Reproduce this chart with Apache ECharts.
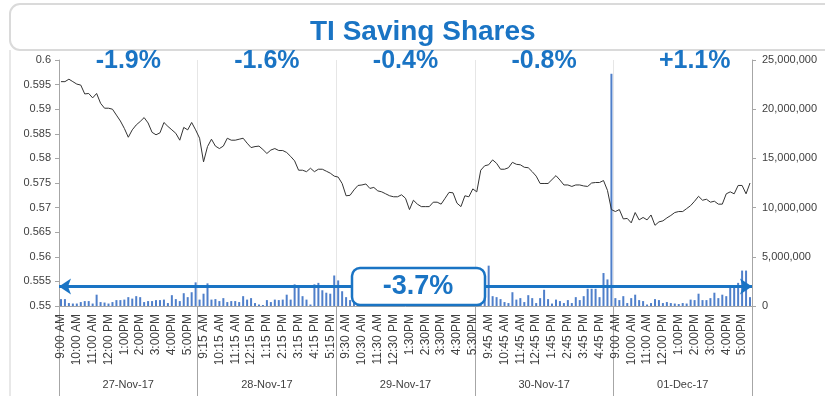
<!DOCTYPE html>
<html>
<head>
<meta charset="utf-8">
<script src="https://cdn.jsdelivr.net/npm/echarts@6/dist/echarts.min.js"></script>
<style>
html, body { margin: 0; padding: 0; background: #fff; }
#main { width: 825px; height: 404px; }
</style>
</head>
<body>
<div id="main"></div>
<script>
// trading days, daily move and the week move
var days = ['27-Nov-17', '28-Nov-17', '29-Nov-17', '30-Nov-17', '01-Dec-17'];
var dayChange = ['-1.9%', '-1.6%', '-0.4%', '-0.8%', '+1.1%'];
var weekChange = '-3.7%';

// 15 minute slots of one session
var slots = ['9:00 AM', '9:15 AM', '9:30 AM', '9:45 AM', '10:00 AM', '10:15 AM', '10:30 AM', '10:45 AM',
    '11:00 AM', '11:15 AM', '11:30 AM', '11:45 AM', '12:00 PM', '12:15 PM', '12:30 PM', '12:45 PM',
    '1:00PM', '1:15 PM', '1:30PM', '1:45 PM', '2:00PM', '2:15 PM', '2:30PM', '2:45 PM',
    '3:00PM', '3:15 PM', '3:30PM', '3:45 PM', '4:00PM', '4:15 PM', '4:30PM', '4:45 PM',
    '5:00PM', '5:15 PM', '5:30PM'];

// price (EUR)
var price27 = [0.5956, 0.5956, 0.5961, 0.5956, 0.5951, 0.5949, 0.5931, 0.5932, 0.5923, 0.5932,
    0.5912, 0.5902, 0.5902, 0.5900, 0.5888, 0.5876, 0.5861, 0.5843, 0.5858, 0.5868,
    0.5875, 0.5883, 0.5872, 0.5853, 0.5848, 0.5852, 0.5873, 0.5865, 0.5858, 0.5851,
    0.5837, 0.5863, 0.5858, 0.5873, 0.5858];
var price28 = [0.5841, 0.5793, 0.5824, 0.5839, 0.5825, 0.5820, 0.5825, 0.5841, 0.5837, 0.5837,
    0.5839, 0.5841, 0.5831, 0.5822, 0.5824, 0.5825, 0.5818, 0.5810, 0.5817, 0.5820,
    0.5816, 0.5816, 0.5812, 0.5804, 0.5795, 0.5776, 0.5776, 0.5773, 0.5780, 0.5773,
    0.5778, 0.5778, 0.5774, 0.5770, 0.5764];
var price29 = [0.5762, 0.5749, 0.5724, 0.5725, 0.5736, 0.5745, 0.5746, 0.5748, 0.5739, 0.5741,
    0.5734, 0.5732, 0.5728, 0.5724, 0.5722, 0.5722, 0.5726, 0.5719, 0.5696, 0.5715,
    0.5707, 0.5702, 0.5702, 0.5702, 0.5711, 0.5711, 0.5707, 0.5719, 0.5731, 0.5730,
    0.5709, 0.5702, 0.5724, 0.5722, 0.5738];
var price30 = [0.5732, 0.5776, 0.5785, 0.5787, 0.5797, 0.5790, 0.5778, 0.5778, 0.5781, 0.5792,
    0.5788, 0.5787, 0.5782, 0.5781, 0.5773, 0.5764, 0.5749, 0.5749, 0.5749, 0.5757,
    0.5765, 0.5756, 0.5746, 0.5746, 0.5743, 0.5746, 0.5746, 0.5744, 0.5743, 0.5750,
    0.5751, 0.5751, 0.5755, 0.5735, 0.5696];
var price01 = [0.5692, 0.5696, 0.5677, 0.5678, 0.5669, 0.5690, 0.5675, 0.5680, 0.5675, 0.5685,
    0.5664, 0.5671, 0.5673, 0.5679, 0.5684, 0.5690, 0.5692, 0.5692, 0.5698, 0.5704,
    0.5713, 0.5723, 0.5715, 0.5717, 0.5711, 0.5713, 0.5707, 0.5707, 0.5728, 0.5732,
    0.5728, 0.5745, 0.5745, 0.5728, 0.5750];

// volume, millions of shares
var vol27 = [0.7, 0.7, 0.3, 0.25, 0.25, 0.4, 0.5, 0.5, 0.25, 1.15,
    0.4, 0.35, 0.25, 0.4, 0.6, 0.6, 0.65, 0.9, 0.75, 1.0,
    0.9, 0.4, 0.5, 0.5, 0.6, 0.6, 0.65, 0.3, 1.1, 0.7,
    0.5, 1.3, 0.9, 1.4, 2.4];
var vol28 = [0.65, 1.25, 2.3, 0.65, 0.7, 0.5, 0.8, 0.4, 0.5, 0.5,
    0.4, 1.0, 0.65, 0.8, 0.3, 0.15, 0.1, 0.6, 0.4, 0.65,
    0.6, 0.65, 1.15, 0.65, 2.2, 1.95, 1.0, 0.65, 0.15, 2.2,
    2.35, 1.6, 1.35, 1.25, 3.1];
var vol29 = [2.6, 1.5, 0.9, 0.6, 0.8, 0.5, 1.2, 0.6, 0.4, 0.9,
    0.7, 0.5, 1.0, 0.6, 0.4, 0.8, 1.1, 0.5, 0.6, 0.9,
    0.4, 0.7, 1.2, 0.8, 0.5, 0.6, 1.0, 0.7, 0.9, 1.3,
    0.6, 0.8, 1.1, 1.4, 1.2];
var vol30 = [1.0, 0.8, 0.9, 4.1, 1.0, 0.9, 0.7, 0.4, 0.3, 1.4,
    0.65, 0.8, 0.4, 1.1, 0.8, 0.3, 0.8, 1.65, 0.7, 0.25,
    0.65, 0.5, 0.3, 0.6, 0.3, 0.9, 0.6, 1.0, 1.75, 1.75,
    1.75, 0.9, 3.35, 2.7, 23.6];
var vol01 = [0.8, 0.6, 1.0, 0.3, 0.8, 1.15, 0.6, 0.5, 0.15, 0.3,
    0.7, 0.6, 0.3, 0.4, 0.3, 0.25, 0.2, 0.3, 0.25, 0.65,
    0.6, 1.25, 0.6, 0.6, 0.8, 1.35, 0.8, 1.15, 1.0, 2.1,
    1.95, 2.35, 3.6, 3.6, 0.9];

var arrowLevel = 1.98; // millions, where the week arrow runs

var blue = '#1a74c4';
var txt = '#404040';
var font = 'Liberation Sans';

var categories = [];
days.forEach(function (d) {
    slots.forEach(function (s) {
        categories.push(d + '|' + s);
    });
});
var prices = price27.concat(price28, price29, price30, price01);
var volumes = vol27.concat(vol28, vol29, vol30, vol01);

var chart = echarts.init(document.getElementById('main'));

var pctStyle = { color: blue, fontSize: 25, fontWeight: 'bold', fontFamily: font };

var option = {
    animation: false,
    title: {
        text: 'TI Saving Shares',
        left: 305,
        top: 13,
        textStyle: { color: blue, fontSize: 28, fontWeight: 'bold', fontFamily: font }
    },
    grid: { left: 59, right: 73, top: 60, bottom: 98 },
    xAxis: [
        {   // time of day
            type: 'category',
            data: categories,
            position: 'bottom',
            axisLine: { show: true, lineStyle: { color: '#a6a6a6' } },
            axisTick: { show: false },
            axisLabel: {
                interval: 3,
                rotate: 90,
                margin: 8,
                color: txt,
                fontSize: 12,
                fontFamily: font,
                formatter: function (v) { return v.split('|')[1]; }
            },
            splitLine: { show: false }
        },
        {   // days
            type: 'category',
            data: days,
            position: 'bottom',
            axisLine: { show: false },
            axisTick: { show: true, interval: 0, length: 90, lineStyle: { color: '#a6a6a6' } },
            axisLabel: { interval: 0, margin: 73, color: txt, fontSize: 11, fontFamily: font },
            splitLine: { show: true, interval: 0, lineStyle: { color: '#e6e6e6' } }
        },
        {   // daily change on top
            type: 'category',
            data: dayChange,
            position: 'top',
            axisLine: { show: false },
            axisTick: { show: false },
            axisLabel: {
                interval: 0, margin: -14,
                color: blue, fontSize: 25, fontWeight: 'bold', fontFamily: font,
                formatter: function (v, i) { return i === 4 ? '{r|' + v + '}' : v; },
                rich: {
                    r: { color: blue, fontSize: 25, fontWeight: 'bold', fontFamily: font, padding: [0, 0, 0, 24] }
                }
            },
            splitLine: { show: false }
        }
    ],
    yAxis: [
        {
            type: 'value',
            min: 0.55,
            max: 0.6,
            interval: 0.005,
            position: 'left',
            axisLine: { show: true, lineStyle: { color: '#a6a6a6' } },
            axisTick: { show: true, length: 4, lineStyle: { color: '#a6a6a6' } },
            axisLabel: { color: txt, fontSize: 11, fontFamily: font, margin: 8 },
            splitLine: { show: false }
        },
        {
            type: 'value',
            min: 0,
            max: 25,
            interval: 5,
            position: 'right',
            axisLine: { show: true, lineStyle: { color: '#a6a6a6' } },
            axisTick: { show: true, length: 4, lineStyle: { color: '#a6a6a6' } },
            axisLabel: {
                color: txt, fontSize: 11, fontFamily: font, margin: 10,
                formatter: function (v) { return (v * 1000000).toLocaleString('en-US'); }
            },
            splitLine: { show: false }
        }
    ],
    series: [
        {
            name: 'Volume',
            type: 'bar',
            xAxisIndex: 0,
            yAxisIndex: 1,
            data: volumes,
            barWidth: 2,
            itemStyle: { color: '#4f7fca' },
            markLine: {
                silent: true,
                symbol: ['arrow', 'arrow'],
                symbolSize: [12, 12],
                label: { show: false },
                lineStyle: { color: blue, width: 3, type: 'solid' },
                data: [{ yAxis: arrowLevel }]
            }
        },
        {
            name: 'Price',
            type: 'line',
            xAxisIndex: 0,
            yAxisIndex: 0,
            data: prices,
            showSymbol: false,
            lineStyle: { color: '#333', width: 1 },
            z: 5
        }
    ],
    graphic: [
        {
            type: 'rect',
            shape: { x: 10, y: 4, width: 840, height: 46, r: 10 },
            style: { fill: 'none', stroke: '#dadada', lineWidth: 2 },
            z: -10
        },
        {
            type: 'line',
            shape: { x1: 10, y1: 50, x2: 10, y2: 396 },
            style: { stroke: '#e8e8e8', lineWidth: 2 },
            z: -10
        },
        {   // week change box over the arrow
            type: 'rect',
            shape: { x: 352, y: 268, width: 133, height: 37, r: 8 },
            style: { fill: '#fff', stroke: blue, lineWidth: 2.5 },
            z: 100
        },
        {
            type: 'text',
            x: 418,
            y: 287,
            z: 101,
            style: {
                text: weekChange, fill: blue, align: 'center', verticalAlign: 'middle',
                font: 'bold 27px "Liberation Sans"'
            }
        }
    ]
};

chart.setOption(option);
</script>
</body>
</html>
